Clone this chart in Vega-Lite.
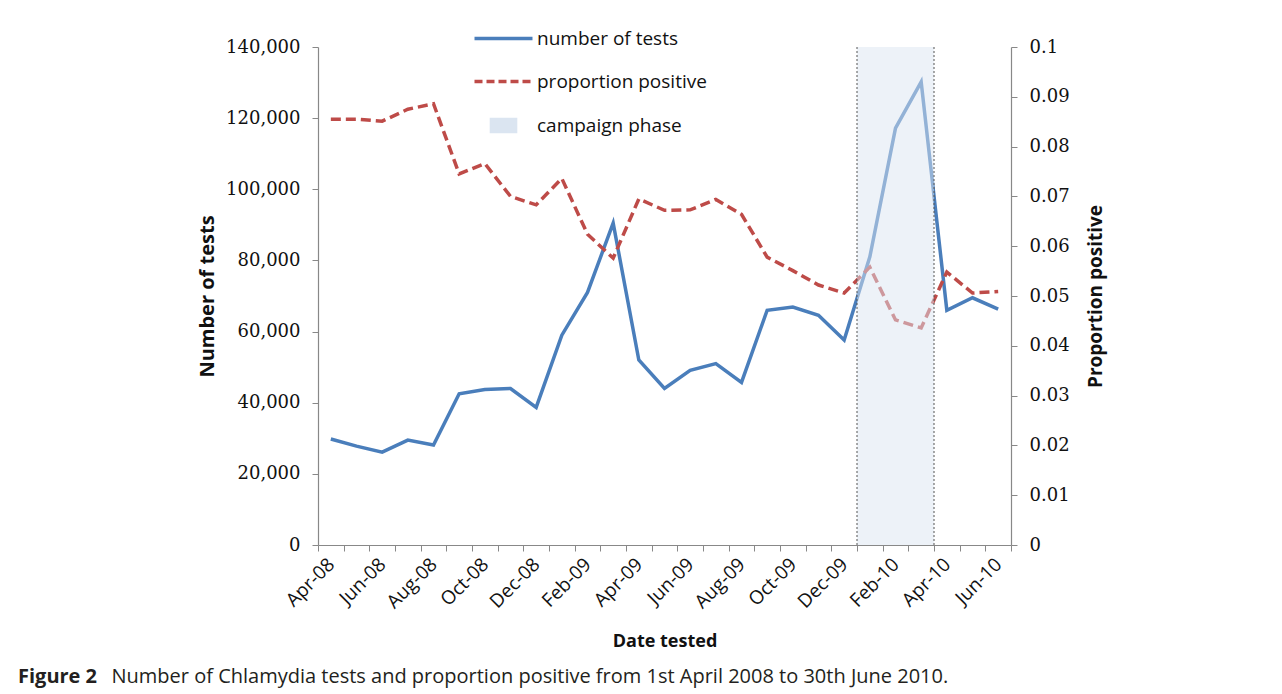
{
  "$schema": "https://vega.github.io/schema/vega-lite/v6.json",
  "width": 693,
  "height": 498,
  "autosize": {"type": "none"},
  "padding": {"left": 318, "top": 47, "right": 271, "bottom": 149},
  "background": "white",
  "config": {"view": {"stroke": null}},
  "title": {
    "text": "Figure 2",
    "subtitle": "\u200b\u00a0\u00a0\u00a0\u00a0\u00a0\u00a0\u00a0\u00a0\u00a0\u00a0\u00a0\u00a0\u00a0\u00a0\u00a0\u00a0\u00a0\u00a0Number of Chlamydia tests and proportion positive from 1st April 2008 to 30th June 2010.",
    "orient": "bottom",
    "anchor": "start",
    "frame": "group",
    "dx": -300,
    "offset": 16,
    "font": "Open Sans",
    "fontSize": 20,
    "fontWeight": "bold",
    "color": "#231f20",
    "subtitleFont": "Open Sans",
    "subtitleFontSize": 20,
    "subtitleFontWeight": "normal",
    "subtitleColor": "#231f20",
    "subtitlePadding": -20
  },
  "datasets": {
    "monthly": [
      {"month": "Apr-08", "tests": 29800, "prop": 0.0855},
      {"month": "May-08", "tests": 27800, "prop": 0.0855},
      {"month": "Jun-08", "tests": 26100, "prop": 0.0851},
      {"month": "Jul-08", "tests": 29500, "prop": 0.0875},
      {"month": "Aug-08", "tests": 28100, "prop": 0.0886},
      {"month": "Sep-08", "tests": 42500, "prop": 0.0745},
      {"month": "Oct-08", "tests": 43700, "prop": 0.0766},
      {"month": "Nov-08", "tests": 44000, "prop": 0.0700},
      {"month": "Dec-08", "tests": 38700, "prop": 0.0683},
      {"month": "Jan-09", "tests": 59000, "prop": 0.0736},
      {"month": "Feb-09", "tests": 71000, "prop": 0.0624},
      {"month": "Mar-09", "tests": 90500, "prop": 0.0576},
      {"month": "Apr-09", "tests": 52000, "prop": 0.0695},
      {"month": "May-09", "tests": 44000, "prop": 0.0672},
      {"month": "Jun-09", "tests": 49100, "prop": 0.0673},
      {"month": "Jul-09", "tests": 51000, "prop": 0.0694},
      {"month": "Aug-09", "tests": 45700, "prop": 0.0664},
      {"month": "Sep-09", "tests": 66000, "prop": 0.0578},
      {"month": "Oct-09", "tests": 66900, "prop": 0.0551},
      {"month": "Nov-09", "tests": 64600, "prop": 0.0522},
      {"month": "Dec-09", "tests": 57600, "prop": 0.0506},
      {"month": "Jan-10", "tests": 81000, "prop": 0.0558},
      {"month": "Feb-10", "tests": 117200, "prop": 0.0452},
      {"month": "Mar-10", "tests": 130200, "prop": 0.0436},
      {"month": "Apr-10", "tests": 66000, "prop": 0.0548},
      {"month": "May-10", "tests": 69500, "prop": 0.0506},
      {"month": "Jun-10", "tests": 66300, "prop": 0.0509}
    ],
    "campaign": [
      {"start": "Jan-10", "end": "Apr-10"}
    ],
    "edges": [
      {"edge": "Jan-10"},
      {"edge": "Apr-10"}
    ]
  },
  "layer": [
    {
      "data": {"name": "monthly"},
      "mark": {"type": "line", "strokeWidth": 3.5, "strokeJoin": "miter"},
      "encoding": {
        "x": {
          "field": "month",
          "type": "ordinal",
          "bandPosition": 0.5,
          "scale": {
            "type": "band",
            "paddingInner": 0,
            "paddingOuter": 0,
            "domain": ["Apr-08","May-08","Jun-08","Jul-08","Aug-08","Sep-08","Oct-08","Nov-08","Dec-08","Jan-09","Feb-09","Mar-09","Apr-09","May-09","Jun-09","Jul-09","Aug-09","Sep-09","Oct-09","Nov-09","Dec-09","Jan-10","Feb-10","Mar-10","Apr-10","May-10","Jun-10"]
          },
          "axis": {
            "title": "Date tested",
            "titleFont": "Open Sans",
            "titleFontSize": 18,
            "titleFontWeight": "bold",
            "titleColor": "#111",
            "titlePadding": 21,
            "labelAngle": -45,
            "labelAlign": "right",
            "labelBaseline": "middle",
            "labelFont": "Open Sans",
            "labelFontSize": 19,
            "labelColor": "#111",
            "labelPadding": 10,
            "labelExpr": "test(/^(Apr|Jun|Aug|Oct|Dec|Feb)/, datum.value) ? datum.value : ''",
            "tickBand": "extent",
            "tickSize": 6,
            "tickColor": "#888",
            "domainColor": "#888",
            "domainWidth": 1.2,
            "grid": false
          }
        },
        "y": {
          "field": "tests",
          "type": "quantitative",
          "scale": {"domain": [0, 140000], "nice": false},
          "axis": {
            "orient": "left",
            "title": "Number of tests",
            "titleFont": "Open Sans",
            "titleFontSize": 20,
            "titleFontWeight": "bold",
            "titleColor": "#111",
            "titlePadding": 8,
            "values": [0, 20000, 40000, 60000, 80000, 100000, 120000, 140000],
            "format": ",d",
            "labelFont": "DejaVu Serif",
            "labelFontSize": 18,
            "labelColor": "#111",
            "labelPadding": 12,
            "tickSize": 6,
            "tickColor": "#888",
            "domainColor": "#888",
            "domainWidth": 1.2,
            "grid": false
          }
        },
        "color": {
          "datum": "number of tests",
          "type": "nominal",
          "scale": {
            "domain": ["number of tests", "proportion positive", "campaign phase"],
            "range": ["#4a7ebb", "#be4b48", "#dbe5f1"]
          },
          "legend": {
            "title": null,
            "orient": "none",
            "legendX": 176,
            "legendY": -18,
            "direction": "vertical",
            "symbolSize": 841,
            "rowPadding": 23,
            "labelOffset": 24,
            "labelFont": "Open Sans",
            "labelFontSize": 19,
            "labelColor": "#111",
            "labelLimit": 300,
            "encode": {
              "symbols": {
                "update": {
                  "shape": {"signal": "datum.value === 'campaign phase' ? 'M-0.9,-0.48H0.9V0.48H-0.9Z' : 'M-2,0H2'"},
                  "stroke": {"signal": "datum.value === 'number of tests' ? '#4a7ebb' : datum.value === 'proportion positive' ? '#be4b48' : '#c9ced6'"},
                  "fill": {"signal": "datum.value === 'campaign phase' ? '#e2e5ea' : 'transparent'"},
                  "strokeWidth": {"signal": "datum.value === 'campaign phase' ? 1.5 : 3.5"},
                  "strokeDash": {"signal": "datum.value === 'proportion positive' ? [8, 4] : [1, 0]"},
                  "opacity": {"value": 1},
                  "fillOpacity": {"value": 1},
                  "strokeOpacity": {"value": 1}
                }
              }
            }
          }
        }
      }
    },
    {
      "data": {"name": "monthly"},
      "mark": {"type": "line", "strokeWidth": 3.5, "strokeDash": [10, 5]},
      "encoding": {
        "x": {"field": "month", "type": "ordinal", "bandPosition": 0.5},
        "y": {
          "field": "prop",
          "type": "quantitative",
          "scale": {"domain": [0, 0.1], "nice": false},
          "axis": {
            "orient": "right",
            "title": "Proportion positive",
            "titleAngle": -90,
            "titleFont": "Open Sans",
            "titleFontSize": 19,
            "titleFontWeight": "bold",
            "titleColor": "#111",
            "titlePadding": 36,
            "values": [0, 0.01, 0.02, 0.03, 0.04, 0.05, 0.06, 0.07, 0.08, 0.09, 0.1],
            "format": ".2~f",
            "labelFont": "DejaVu Serif",
            "labelFontSize": 18,
            "labelColor": "#111",
            "labelPadding": 12,
            "tickSize": 6,
            "tickColor": "#888",
            "domainColor": "#888",
            "domainWidth": 1.2,
            "grid": false
          }
        },
        "color": {"datum": "proportion positive", "type": "nominal"}
      }
    },
    {
      "data": {"name": "campaign"},
      "mark": {"type": "rect", "opacity": 0.5},
      "encoding": {
        "x": {"field": "start", "type": "ordinal", "bandPosition": 0},
        "x2": {"field": "end", "bandPosition": 0},
        "color": {"datum": "campaign phase", "type": "nominal"}
      }
    },
    {
      "data": {"name": "edges"},
      "mark": {"type": "rule", "color": "#555", "strokeWidth": 1, "strokeDash": [2, 2]},
      "encoding": {
        "x": {"field": "edge", "type": "ordinal", "bandPosition": 0}
      }
    }
  ],
  "resolve": {"scale": {"y": "independent"}}
}
